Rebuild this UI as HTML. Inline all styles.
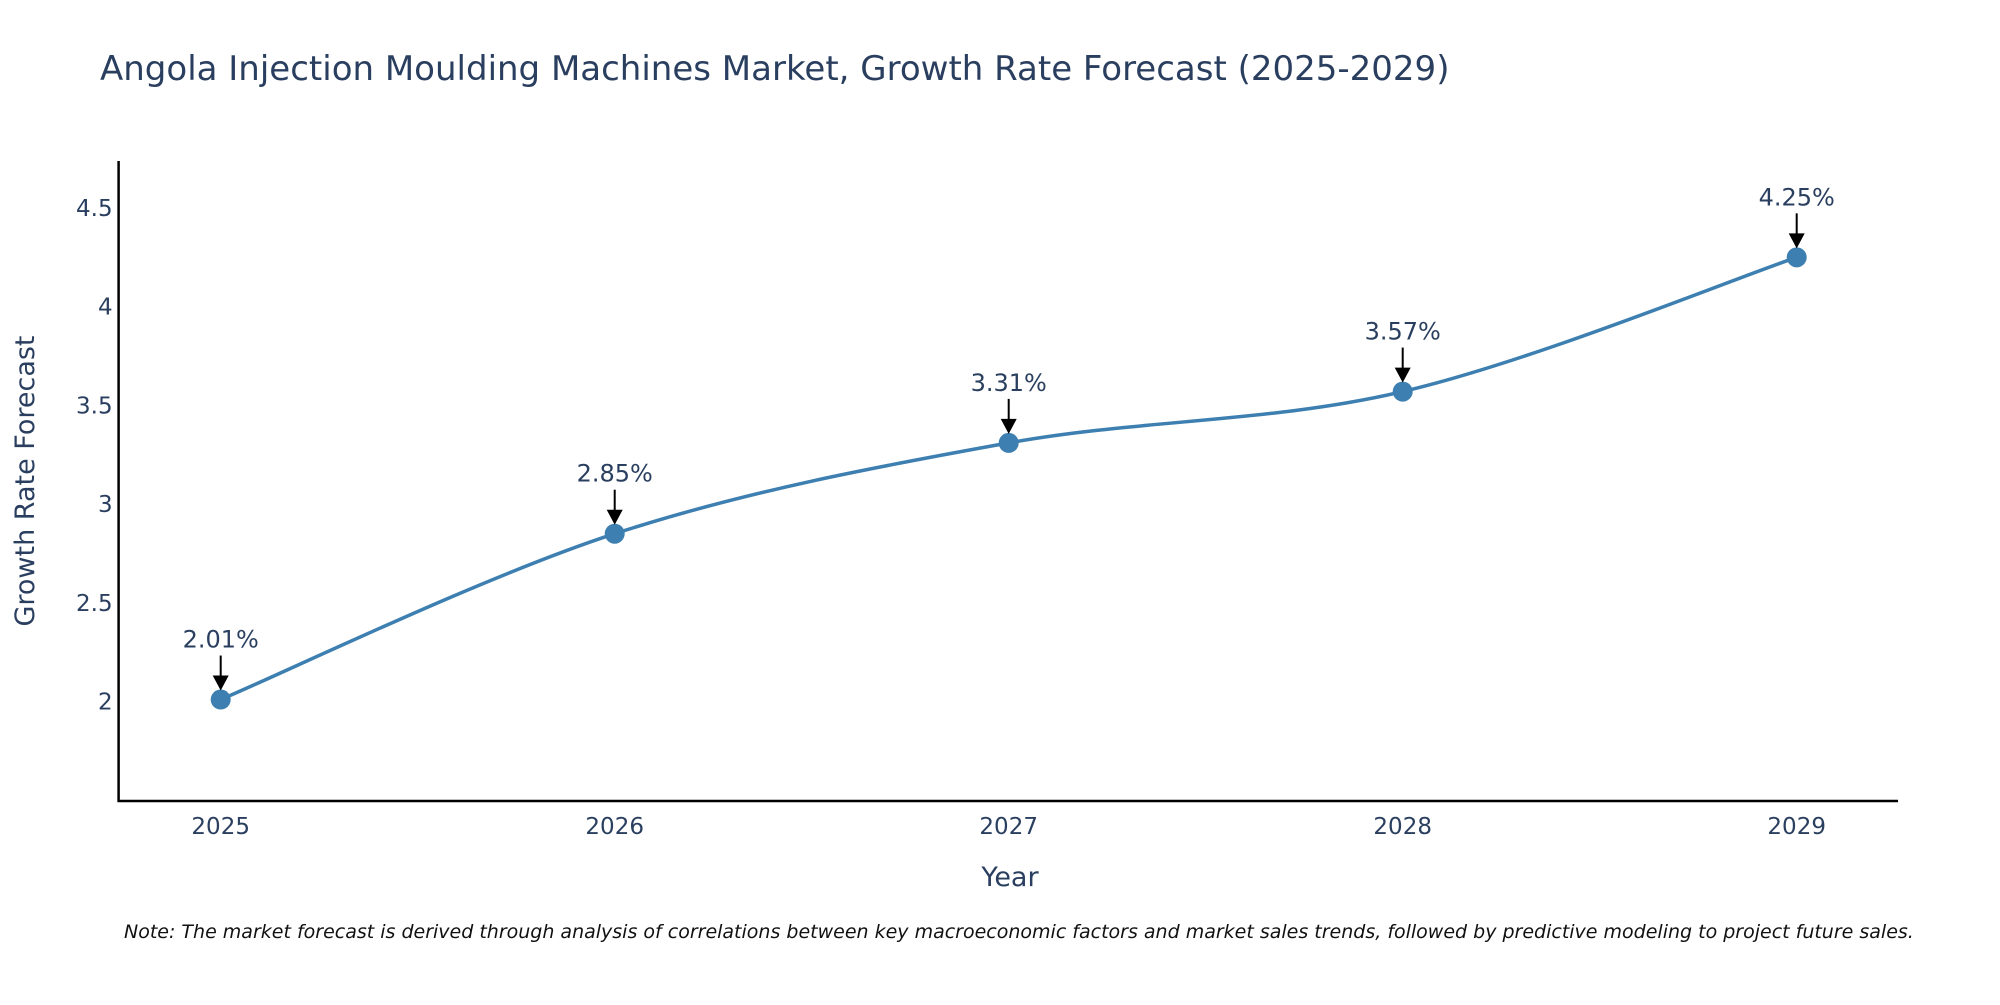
<!DOCTYPE html>
<html><head><meta charset="utf-8"><style>
body{margin:0;background:#fff;}
svg{font-family:"DejaVu Sans","Liberation Sans",sans-serif;}
</style></head><body>
<svg id="chart" width="2000" height="1000" viewBox="0 0 2000 1000">
<text x="100" y="80" font-size="34" fill="#2a3f5f">Angola Injection Moulding Machines Market, Growth Rate Forecast (2025-2029)</text>
<g id="axes"></g>
<g id="plot"></g>
<text x="1010" y="886" font-size="27" fill="#2a3f5f" text-anchor="middle">Year</text>
<text transform="translate(34,481) rotate(-90)" font-size="27" fill="#2a3f5f" text-anchor="middle">Growth Rate Forecast</text>
<text x="124" y="938" font-size="19" font-style="italic" fill="#111">Note: The market forecast is derived through analysis of correlations between key macroeconomic factors and market sales trends, followed by predictive modeling to project future sales.</text>
</svg>
<script>
const years=["2025","2026","2027","2028","2029"];
const values=[2.01,2.85,3.31,3.57,4.25];
const valueLabels=["2.01%","2.85%","3.31%","3.57%","4.25%"];
const yTicks=[2,2.5,3,3.5,4,4.5];
const yTickLabels=["2","2.5","3","3.5","4","4.5"];
const NS="http://www.w3.org/2000/svg";
const L=118.6,R=1898,T=161,B=801,yMin=1.496,yMax=4.738;
const x0=220.7,dx=394;
function xs(i){return x0+i*dx;}
function ys(v){return B-(v-yMin)/(yMax-yMin)*(B-T);}
function mk(t,a,p){const e=document.createElementNS(NS,t);for(const k in a)e.setAttribute(k,a[k]);(p||document.getElementById('plot')).appendChild(e);return e;}
const ax=document.getElementById('axes');
let e=mk('line',{x1:L,y1:T,x2:L,y2:B+1,stroke:'#000','stroke-width':2.5},ax);


e=mk('line',{x1:L-1,y1:B,x2:R,y2:B,stroke:'#000','stroke-width':2.5},ax);


yTicks.forEach((v,i)=>{const t=mk('text',{x:L-6,y:ys(v)+8,'font-size':23,fill:'#2a3f5f','text-anchor':'end'},ax);t.textContent=yTickLabels[i];

});
years.forEach((y,i)=>{const t=mk('text',{x:xs(i),y:834,'font-size':23,fill:'#2a3f5f','text-anchor':'middle'},ax);t.textContent=y;

});
const pts=values.map((v,i)=>[xs(i),ys(v)]);
let d=`M${pts[0][0]},${pts[0][1]}`;const s=1/6;
for(let i=0;i<pts.length-1;i++){const p0=pts[Math.max(0,i-1)],p1=pts[i],p2=pts[i+1],p3=pts[Math.min(pts.length-1,i+2)];
d+=` C${p1[0]+(p2[0]-p0[0])*s},${p1[1]+(p2[1]-p0[1])*s} ${p2[0]-(p3[0]-p1[0])*s},${p2[1]-(p3[1]-p1[1])*s} ${p2[0]},${p2[1]}`;}
e=mk('path',{d:d,fill:'none',stroke:'#3d7fb0','stroke-width':3.5});


pts.forEach((p,i)=>{const c=mk('circle',{cx:p[0],cy:p[1],r:10,fill:'#3d7fb0'});


const a=mk('line',{x1:p[0],y1:p[1]-44,x2:p[0],y2:p[1]-22,stroke:'#000','stroke-width':2});


const h=mk('polygon',{points:`${p[0]-8},${p[1]-24} ${p[0]+8},${p[1]-24} ${p[0]},${p[1]-9}`,fill:'#000'});


const t=mk('text',{x:p[0],y:p[1]-52,'font-size':24,fill:'#2a3f5f','text-anchor':'middle'});t.textContent=valueLabels[i];

});
</script>
</body></html>
